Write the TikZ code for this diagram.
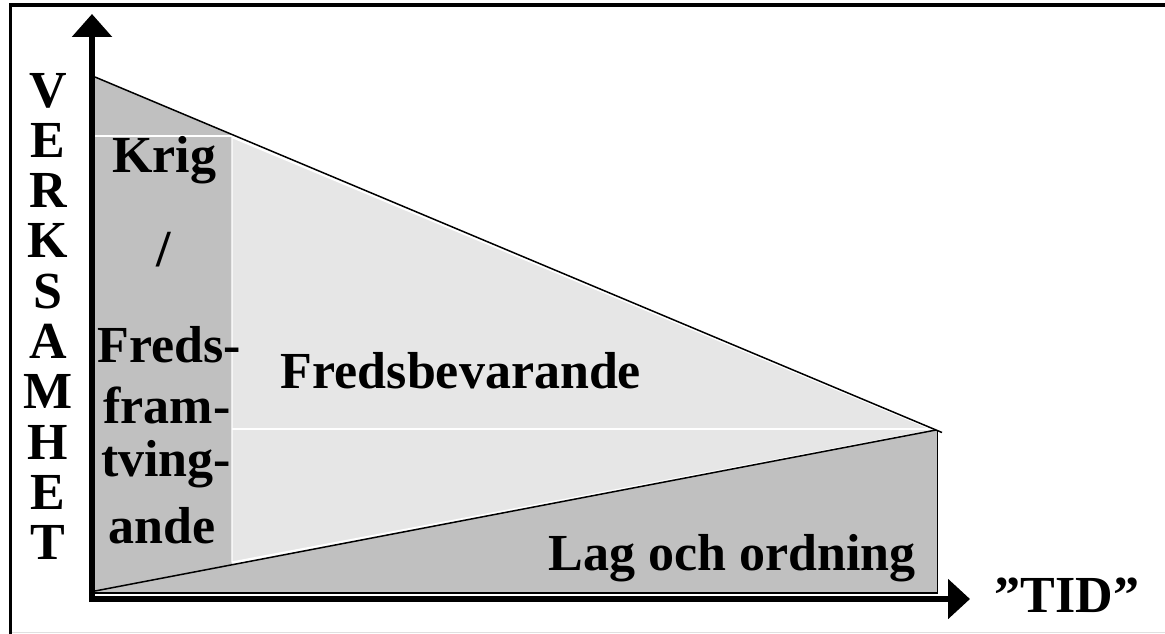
\documentclass[tikz,border=0pt]{standalone}
\usepackage{fontspec}
\setmainfont{Liberation Serif}
\usetikzlibrary{arrows.meta}
\definecolor{darkfill}{HTML}{C0C0C0}
\definecolor{lightfill}{HTML}{E6E6E6}
\definecolor{framegray}{HTML}{E0E0E0}
\tikzset{
  lab/.style={font=\fontsize{52}{52}\selectfont\bfseries, anchor=base, inner sep=0pt},
  axisline/.style={line width=6pt},
  edge/.style={line width=1.5pt},
  sep/.style={white, line width=1.2pt},
}
\begin{document}
\begin{tikzpicture}[x=1pt,y=-1pt]
\useasboundingbox (0,0) rectangle (1165,634);
% frame
\draw[line width=3.5pt] (10.5,634) -- (10.5,5) -- (1165,5);
\draw[framegray, line width=1.5pt] (12,632.5) -- (1165,632.5);
% key points
\coordinate (A) at (95,77);
\coordinate (P) at (936,430);
\coordinate (B) at (95,591);
\coordinate (C1) at (232,134.6);
\coordinate (C2) at (232,564.8);
\coordinate (Pext) at (942,432.5);
\coordinate (R1) at (937.5,430);
\coordinate (R2) at (937.5,593);
\coordinate (R3) at (95,593);
% fills
\fill[darkfill] (A) -- (C1) -- (C2) -- (B) -- cycle;
\path[fill=lightfill, draw=white, line width=1.2pt] (232,137.5) -- (933,430) -- (232,562) -- cycle;
\fill[darkfill] (B) -- (P) -- (R1) -- (R2) -- (R3) -- cycle;
\draw[sep] (95,136) -- (232,136);
\draw[sep] (232,429) -- (934,429);
% outlines
\draw[edge] (A) -- (Pext);
\draw[edge] (B) -- (P);
\draw[edge] (R1) -- (R2) -- (R3);
% axes
\coordinate (Ystart) at (92,602);
\coordinate (Ytop) at (92,14);
\coordinate (Xstart) at (89,599);
\coordinate (Xend) at (970,599);
\draw[axisline, -{Triangle[length=23pt,width=39pt]}] (Ystart) -- (Ytop);
\draw[axisline, -{Triangle[length=22pt,width=39pt]}] (Xstart) -- (Xend);
% vertical axis label
\foreach \l [count=\i from 0] in {V,E,R,K,S,A,M,H,E,T}
  \node[lab] (v\i) at (48,107+50.33*\i) {\l};
% left column
\node[lab] (krig) at (164,172) {Krig};
\node[lab] (slash) at (164,266) {/};
\node[lab] (freds) at (169,362) {Freds-};
\node[lab] (fram) at (167,423) {fram-};
\node[lab] (tving) at (166,476) {tving-};
\node[lab] (ande) at (162,543) {ande};
% other labels
\node[lab] (fb) at (461,388) {Fredsbevarande};
\node[lab] (lag) at (732,570) {Lag och ordning};
\node[lab] (tid) at (1067,612) {''TID''};
\end{tikzpicture}
\end{document}
